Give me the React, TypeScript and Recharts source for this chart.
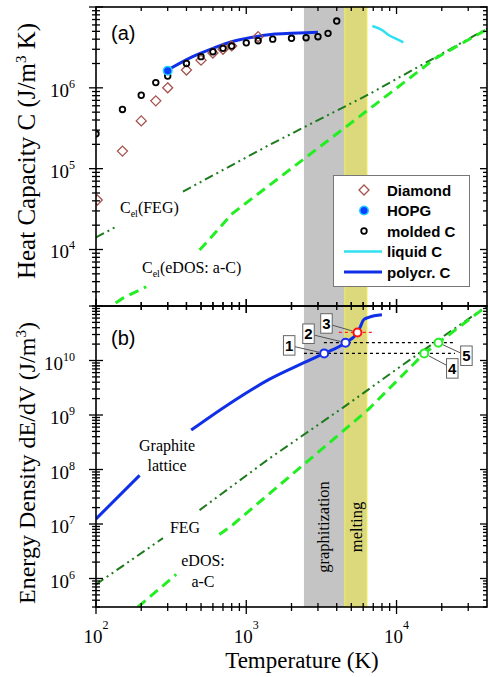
import {
  ComposedChart,
  Line,
  Scatter,
  XAxis,
  YAxis,
  ReferenceArea,
  ReferenceDot,
} from 'recharts'

const SERIF = '"Liberation Serif", "Times New Roman", serif'
const SANS = '"Liberation Sans", Arial, sans-serif'

// axis ranges
const T_MIN = 100
const T_MAX = 40000
const C_MIN = 2000
const C_MAX = 1e7
const E_MIN = 3e5
const E_MAX = 1e11

// phase regions (K)
const graphitization = [2420, 4530]
const melting = [4530, 6360]

// panel (a): heat capacity, J/(m^3 K)
const diamond = [
  { T: 102, v: 4.1e4 },
  { T: 150, v: 1.65e5 },
  { T: 200, v: 3.9e5 },
  { T: 250, v: 6.9e5 },
  { T: 300, v: 1.0e6 },
  { T: 400, v: 1.66e6 },
  { T: 500, v: 2.2e6 },
  { T: 600, v: 2.7e6 },
  { T: 700, v: 3.0e6 },
  { T: 800, v: 3.3e6 },
  { T: 1200, v: 4.3e6 },
]
const hopg = [{ T: 300, v: 1.63e6 }]
const moldedC = [
  { T: 100, v: 2.7e5 },
  { T: 150, v: 5.4e5 },
  { T: 200, v: 8.1e5 },
  { T: 250, v: 1.16e6 },
  { T: 300, v: 1.4e6 },
  { T: 400, v: 2.0e6 },
  { T: 500, v: 2.43e6 },
  { T: 600, v: 2.8e6 },
  { T: 700, v: 3.08e6 },
  { T: 800, v: 3.29e6 },
  { T: 1000, v: 3.6e6 },
  { T: 1200, v: 3.83e6 },
  { T: 1500, v: 4.0e6 },
  { T: 2000, v: 4.1e6 },
  { T: 2500, v: 4.17e6 },
  { T: 3000, v: 4.29e6 },
  { T: 3500, v: 4.72e6 },
  { T: 4000, v: 6.7e6 },
]
const liquidC = [
  { T: 6900, v: 5.82e6 },
  { T: 8000, v: 5.19e6 },
  { T: 8850, v: 4.5e6 },
  { T: 9800, v: 4.1e6 },
  { T: 11100, v: 3.66e6 },
]
const polycrC = [
  { T: 300, v: 1.66e6 },
  { T: 440, v: 2.43e6 },
  { T: 600, v: 3.08e6 },
  { T: 800, v: 3.72e6 },
  { T: 1100, v: 4.22e6 },
  { T: 1500, v: 4.6e6 },
  { T: 2000, v: 4.73e6 },
  { T: 2500, v: 4.81e6 },
  { T: 3000, v: 4.86e6 },
]
const celFEG = [
  { T: 100, v: 1.41e4 },
  { T: 140, v: 1.97e4 },
  { T: 250, v: null },
  { T: 379, v: 5.2e4 },
  { T: 1420, v: 1.96e5 },
  { T: 6530, v: 8.3e5 },
  { T: 40000, v: 5.4e6 },
]
const celEDOS = [
  { T: 110, v: 1700 },
  { T: 151, v: 2500 },
  { T: 216, v: 3460 },
  { T: 300, v: null },
  { T: 489, v: 9830 },
  { T: 811, v: 2.8e4 },
  { T: 1420, v: 6.2e4 },
  { T: 6530, v: 5.4e5 },
  { T: 18030, v: 2.3e6 },
  { T: 40000, v: 5.3e6 },
]

// panel (b): energy density, J/m^3
const graphiteE = [
  { T: 100, v: 1.24e7 },
  { T: 195, v: 7.8e7 },
  { T: 300, v: null },
  { T: 430, v: 5.3e8 },
  { T: 734, v: 1.47e9 },
  { T: 1420, v: 4.5e9 },
  { T: 2420, v: 9.1e9 },
  { T: 3300, v: 1.35e10 },
  { T: 4575, v: 2.12e10 },
  { T: 5495, v: 3.27e10 },
  { T: 5750, v: 4.2e10 },
  { T: 6040, v: 5.6e10 },
  { T: 6530, v: 6.2e10 },
  { T: 8000, v: 6.9e10 },
]
const fegE = [
  { T: 100, v: 7.8e5 },
  { T: 279, v: 5.5e6 },
  { T: 380, v: null },
  { T: 489, v: 1.8e7 },
  { T: 1420, v: 1.58e8 },
  { T: 4574, v: 1.47e9 },
  { T: 12320, v: 1.04e10 },
  { T: 40000, v: 1.0e11 },
]
const edosE = [
  { T: 190, v: 3.0e5 },
  { T: 342, v: 1.19e6 },
  { T: 450, v: null },
  { T: 662, v: 6.4e6 },
  { T: 811, v: 9.6e6 },
  { T: 1654, v: 5.1e7 },
  { T: 6530, v: 1.28e9 },
  { T: 15300, v: 1.35e10 },
  { T: 19000, v: 2.12e10 },
  { T: 40000, v: 1.0e11 },
]
const bluePts = [
  { T: 3300, v: 1.35e10 },
  { T: 4575, v: 2.12e10 },
]
const redPts = [{ T: 5495, v: 3.27e10 }]
const greenPts = [
  { T: 15300, v: 1.35e10 },
  { T: 19000, v: 2.12e10 },
]
const guide1 = [
  { T: 2420, v: 1.35e10 },
  { T: 24500, v: 1.35e10 },
]
const guide2 = [
  { T: 3285, v: 2.12e10 },
  { T: 24500, v: 2.12e10 },
]
const guide3 = [
  { T: 4130, v: 3.27e10 },
  { T: 7040, v: 3.27e10 },
]
const calloutPts = [...bluePts, ...redPts, ...greenPts]
const calloutLabels = ['1', '2', '3', '4', '5']
// box offsets from each marked point, px
const calloutOffsets = [
  [-35, -8],
  [-37, -9],
  [-31, -9],
  [28, 15],
  [28, 13],
]

const decadeTicks = (lo: number, hi: number) => {
  const out: number[] = []
  for (let e = Math.floor(Math.log10(lo)); e <= Math.ceil(Math.log10(hi)); e++) {
    for (let m = 1; m <= 9; m++) {
      const v = m * Math.pow(10, e)
      if (v >= lo * 0.999 && v <= hi * 1.001) out.push(v)
    }
  }
  return out
}
const xTicks = decadeTicks(T_MIN, 30000)
const cTicks = decadeTicks(C_MIN, C_MAX)
const eTicks = decadeTicks(E_MIN, E_MAX)

const W = 488
const PLOT_R = 487
const isMajor = (v: number) => Math.abs(Math.log10(v) - Math.round(Math.log10(v))) < 1e-6
const expOf = (v: number) => Math.round(Math.log10(v))

function XTickMark(props: any) {
  const { x, y, payload, top, topCross, labels } = props
  const v = payload.value
  const major = isMajor(v)
  const len = major ? 7 : 4
  return (
    <g>
      <line x1={x} x2={x} y1={y - len} y2={y + len} stroke="#000" strokeWidth={1.3} />
      <line x1={x} x2={x} y1={topCross ? top - len : top} y2={top + len} stroke="#000" strokeWidth={1.3} />
      {labels && major && (
        <text x={x} y={y + 36} textAnchor="middle" fontFamily={SERIF} fontSize={19} fill="#000">
          10<tspan dy={-14} fontSize={12}>{expOf(v)}</tspan>
        </text>
      )}
    </g>
  )
}

function YTickMark(props: any) {
  const { x, y, payload, labelled } = props
  const v = payload.value
  const major = isMajor(v)
  const len = major ? 7 : 4
  return (
    <g>
      <line x1={x - len} x2={x + len} y1={y} y2={y} stroke="#000" strokeWidth={1.3} />
      <line x1={PLOT_R - len} x2={PLOT_R} y1={y} y2={y} stroke="#000" strokeWidth={1.3} />
      {major && labelled.includes(expOf(v)) && (
        <text x={x - 21} y={y + 9} textAnchor="end" fontFamily={SERIF} fontSize={19} fill="#000">
          10<tspan dy={-9} fontSize={12}>{expOf(v)}</tspan>
        </text>
      )}
    </g>
  )
}

const diamondShape = (p: any) => (
  <polygon
    points={`${p.cx},${p.cy - 5} ${p.cx + 5},${p.cy} ${p.cx},${p.cy + 5} ${p.cx - 5},${p.cy}`}
    fill="none"
    stroke="#a5524d"
    strokeWidth={1.3}
  />
)
const moldedShape = (p: any) => <circle cx={p.cx} cy={p.cy} r={2.8} fill="none" stroke="#000" strokeWidth={1.8} />
const hopgShape = (p: any) => <circle cx={p.cx} cy={p.cy} r={4.3} fill="#0a40ff" stroke="#22d0ff" strokeWidth={1.5} />
const ring = (color: string) => (p: any) =>
  <circle cx={p.cx} cy={p.cy} r={4} fill="#fff" stroke={color} strokeWidth={2} />

function Callout({ cx, cy, label, off }: any) {
  const bx = cx + off[0]
  const by = cy + off[1]
  const d = Math.hypot(bx - cx, by - cy)
  const ex = cx + ((bx - cx) * 5) / d
  const ey = cy + ((by - cy) * 5) / d
  return (
    <g>
      <line x1={bx} y1={by} x2={ex} y2={ey} stroke="#555" strokeWidth={1} />
      <rect x={bx - 5.75} y={by - 9.75} width={11.5} height={19.5} fill="#fff" stroke="#666" strokeWidth={1} />
      <text x={bx} y={by + 5.5} textAnchor="middle" fontFamily={SANS} fontWeight="bold" fontSize={15} fill="#000">
        {label}
      </text>
    </g>
  )
}

const xAxisProps = {
  dataKey: 'T',
  type: 'number' as const,
  scale: 'log' as const,
  domain: [T_MIN, T_MAX],
  allowDataOverflow: true,
  ticks: xTicks,
  interval: 0 as const,
  axisLine: false,
  tickLine: false,
  tickSize: 0,
  tickMargin: 0,
}

function PanelA() {
  return (
    <ComposedChart width={W} height={316} margin={{ top: 7, right: 1, bottom: 0, left: 0 }}>
      <XAxis {...xAxisProps} height={10} tick={(p: any) => <XTickMark {...p} top={7} topCross={false} labels={false} />} />
      <YAxis
        dataKey="v"
        type="number"
        scale="log"
        domain={[C_MIN, C_MAX]}
        allowDataOverflow
        ticks={cTicks}
        interval={0}
        width={96}
        axisLine={false}
        tickLine={false}
        tickSize={0}
        tickMargin={0}
        tick={(p: any) => <YTickMark {...p} labelled={[4, 5, 6]} />}
      />
      <ReferenceArea x1={graphitization[0]} x2={graphitization[1]} fill="#c4c4c4" fillOpacity={1} stroke="none" />
      <ReferenceArea x1={melting[0]} x2={melting[1]} fill="#dcd97c" fillOpacity={1} stroke="#f2ec58" strokeWidth={1} />
      <Line data={celFEG} dataKey="v" stroke="#1d7a1d" strokeWidth={2} strokeDasharray="9 4 2 4 2 4" dot={false} isAnimationActive={false} />
      <Line data={celEDOS} dataKey="v" stroke="#22ee22" strokeWidth={3} strokeDasharray="10 6" dot={false} isAnimationActive={false} />
      <Line data={polycrC} dataKey="v" type="monotone" stroke="#1030e8" strokeWidth={3} dot={false} isAnimationActive={false} />
      <Line data={liquidC} dataKey="v" type="monotone" stroke="#30e0f0" strokeWidth={2.5} dot={false} isAnimationActive={false} />
      <Scatter data={diamond} shape={diamondShape} isAnimationActive={false} />
      <Scatter data={moldedC} shape={moldedShape} isAnimationActive={false} />
      <Scatter data={hopg} shape={hopgShape} isAnimationActive={false} />
    </ComposedChart>
  )
}

function PanelB() {
  return (
    <ComposedChart width={W} height={381} margin={{ top: 10, right: 1, bottom: 0, left: 0 }}>
      <XAxis {...xAxisProps} height={70} tick={(p: any) => <XTickMark {...p} top={10} topCross labels />} />
      <YAxis
        dataKey="v"
        type="number"
        scale="log"
        domain={[E_MIN, E_MAX]}
        allowDataOverflow
        ticks={eTicks}
        interval={0}
        width={96}
        axisLine={false}
        tickLine={false}
        tickSize={0}
        tickMargin={0}
        tick={(p: any) => <YTickMark {...p} labelled={[6, 7, 8, 9, 10]} />}
      />
      <ReferenceArea x1={graphitization[0]} x2={graphitization[1]} fill="#c4c4c4" fillOpacity={1} stroke="none" />
      <ReferenceArea x1={melting[0]} x2={melting[1]} fill="#dcd97c" fillOpacity={1} stroke="#f2ec58" strokeWidth={1} />
      <Line data={guide1} dataKey="v" stroke="#000" strokeWidth={1.3} strokeDasharray="3 3" dot={false} isAnimationActive={false} />
      <Line data={guide2} dataKey="v" stroke="#000" strokeWidth={1.3} strokeDasharray="3 3" dot={false} isAnimationActive={false} />
      <Line data={guide3} dataKey="v" stroke="#ff2020" strokeWidth={1.3} strokeDasharray="3 3" dot={false} isAnimationActive={false} />
      <Line data={fegE} dataKey="v" stroke="#1d7a1d" strokeWidth={2} strokeDasharray="9 4 2 4 2 4" dot={false} isAnimationActive={false} />
      <Line data={edosE} dataKey="v" stroke="#22ee22" strokeWidth={3} strokeDasharray="10 6" dot={false} isAnimationActive={false} />
      <Line data={graphiteE} dataKey="v" type="monotone" stroke="#1030e8" strokeWidth={3} dot={false} isAnimationActive={false} />
      {calloutPts.map((pt, i) => (
        <ReferenceDot
          key={i}
          x={pt.T}
          y={pt.v}
          r={4}
          shape={(p: any) => <Callout cx={p.cx} cy={p.cy} label={calloutLabels[i]} off={calloutOffsets[i]} />}
        />
      ))}
      <Scatter data={bluePts} shape={ring('#1a2ef0')} isAnimationActive={false} />
      <Scatter data={redPts} shape={ring('#ff1010')} isAnimationActive={false} />
      <Scatter data={greenPts} shape={ring('#2aee2a')} isAnimationActive={false} />
    </ComposedChart>
  )
}

function Overlay() {
  const legendRows = ['Diamond', 'HOPG', 'molded C', 'liquid C', 'polycr. C']
  const rowY = [190, 210.5, 231, 251.5, 272]
  return (
    <svg width={W} height={677} style={{ position: 'absolute', left: 0, top: 0, pointerEvents: 'none' }}>
      <rect x={96} y={7} width={391} height={299} fill="none" stroke="#000" strokeWidth={1.6} />
      <rect x={96} y={306} width={391} height={301} fill="none" stroke="#000" strokeWidth={1.6} />

      <text transform="translate(35,151) rotate(-90)" textAnchor="middle" fontFamily={SERIF} fontSize={25}>
        Heat Capacity C (J/m<tspan dy={-9} fontSize={15}>3</tspan>
        <tspan dy={9}> K)</tspan>
      </text>
      <text transform="translate(35,463) rotate(-90)" textAnchor="middle" fontFamily={SERIF} fontSize={24}>
        Energy Density dE/dV (J/m<tspan dy={-9} fontSize={15}>3</tspan>
        <tspan dy={9}>)</tspan>
      </text>
      <text x={302} y={668} textAnchor="middle" fontFamily={SERIF} fontSize={23}>
        Temperature (K)
      </text>

      <text x={111} y={40} fontFamily={SANS} fontSize={20}>(a)</text>
      <text x={111} y={345} fontFamily={SANS} fontSize={20}>(b)</text>

      <text x={120} y={213} fontFamily={SERIF} fontSize={16}>
        C<tspan dy={4} fontSize={10}>el</tspan>
        <tspan dy={-4}>(FEG)</tspan>
      </text>
      <text x={142} y={273} fontFamily={SERIF} fontSize={16}>
        C<tspan dy={4} fontSize={10}>el</tspan>
        <tspan dy={-4}>(eDOS: a-C)</tspan>
      </text>
      <text x={167} y={451} textAnchor="middle" fontFamily={SERIF} fontSize={16}>Graphite</text>
      <text x={167} y={471} textAnchor="middle" fontFamily={SERIF} fontSize={16}>lattice</text>
      <text x={185} y={533} textAnchor="middle" fontFamily={SERIF} fontSize={16}>FEG</text>
      <text x={203} y={566} textAnchor="middle" fontFamily={SERIF} fontSize={16}>eDOS:</text>
      <text x={203} y={587} textAnchor="middle" fontFamily={SERIF} fontSize={16}>a-C</text>
      <text transform="translate(329,527) rotate(-90)" textAnchor="middle" fontFamily={SERIF} fontSize={16.5}>
        graphitization
      </text>
      <text transform="translate(362,527) rotate(-90)" textAnchor="middle" fontFamily={SERIF} fontSize={16.5}>
        melting
      </text>

      <rect x={333.5} y={175.5} width={136} height={111} fill="#fff" stroke="#777" strokeWidth={1} />
      <polygon points={`364,${rowY[0] - 5} 369,${rowY[0]} 364,${rowY[0] + 5} 359,${rowY[0]}`} fill="none" stroke="#a5524d" strokeWidth={1.3} />
      <circle cx={364} cy={rowY[1]} r={4.3} fill="#0a40ff" stroke="#22d0ff" strokeWidth={1.5} />
      <circle cx={364} cy={rowY[2]} r={2.8} fill="none" stroke="#000" strokeWidth={1.8} />
      <line x1={344} x2={382} y1={rowY[3]} y2={rowY[3]} stroke="#30e0f0" strokeWidth={2.5} />
      <line x1={344} x2={382} y1={rowY[4]} y2={rowY[4]} stroke="#1030e8" strokeWidth={3} />
      {legendRows.map((name, i) => (
        <text key={name} x={387} y={rowY[i] + 5.5} fontFamily={SANS} fontWeight="bold" fontSize={15}>
          {name}
        </text>
      ))}
    </svg>
  )
}

export default function App() {
  return (
    <div style={{ position: 'absolute', left: 0, top: 0, width: W, height: 677, background: '#fff' }}>
      <div style={{ position: 'absolute', left: 0, top: 0 }}>
        <PanelA />
      </div>
      <div style={{ position: 'absolute', left: 0, top: 296 }}>
        <PanelB />
      </div>
      <Overlay />
    </div>
  )
}
